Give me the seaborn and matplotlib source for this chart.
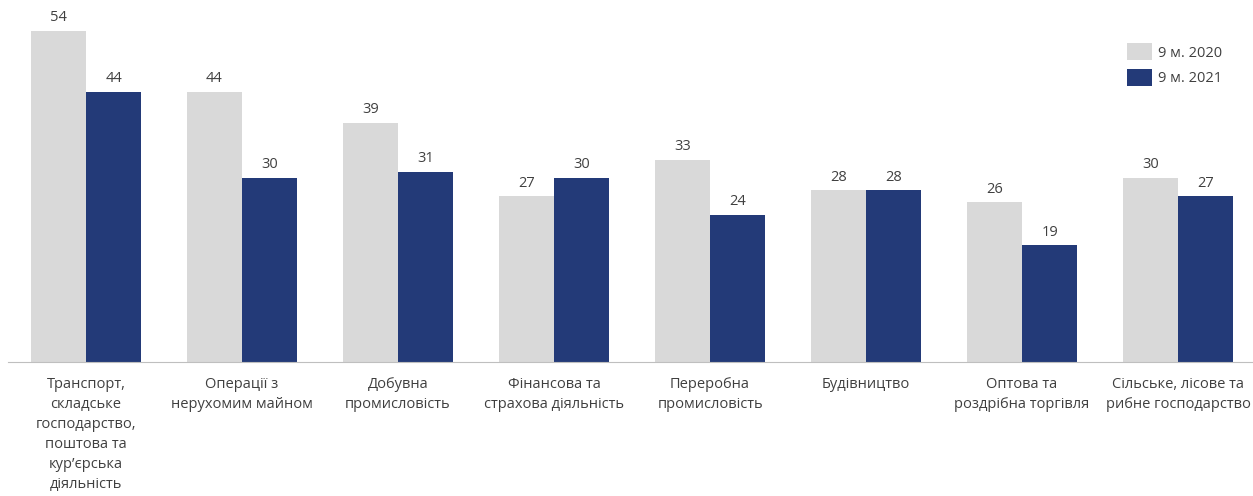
import pandas as pd
import matplotlib.pyplot as plt
import seaborn as sns

# Дані
categories = [
    "Транспорт,\nскладське\nгосподарство,\nпоштова та\nкур’єрська\nдіяльність",
    "Операції з\nнерухомим майном",
    "Добувна\nпромисловість",
    "Фінансова та\nстрахова діяльність",
    "Переробна\nпромисловість",
    "Будівництво",
    "Оптова та\nроздрібна торгівля",
    "Сільське, лісове та\nрибне господарство",
]
values_2020 = [54, 44, 39, 27, 33, 28, 26, 30]
values_2021 = [44, 30, 31, 30, 24, 28, 19, 27]
series = ["9 м. 2020", "9 м. 2021"]

df = pd.DataFrame({
    "cat": categories * 2,
    "val": values_2020 + values_2021,
    "period": [series[0]] * 8 + [series[1]] * 8,
})

sns.set_style("white")
plt.rcParams['font.family'] = ['Open Sans', 'DejaVu Sans']

fig = plt.figure(figsize=(12.53, 4.96), dpi=100)
ax = fig.add_axes([8 / 1253, 134 / 496, 1245 / 1253, 362 / 496])

sns.barplot(data=df, x="cat", y="val", hue="period", order=categories,
            hue_order=series, palette=["#d9d9d9", "#233a78"],
            width=0.71, saturation=1, linewidth=0, ax=ax)

for c in ax.containers:
    ax.bar_label(c, fmt="%d", padding=4, fontsize=10.5, color="#404040")

ax.set_xlim(-0.5, 7.48)
ax.set_ylim(0, 59)
ax.set_xlabel("")
ax.set_ylabel("")
ax.set_yticks([])
ax.tick_params(axis="x", length=0, pad=11, labelsize=10.5, labelcolor="#404040")
for lbl in ax.get_xticklabels():
    lbl.set_linespacing(1.45)
for s in ["top", "right", "left"]:
    ax.spines[s].set_visible(False)
ax.spines["bottom"].set_color("#bfbfbf")

ax.legend(loc="upper left", bbox_to_anchor=(1114 / 1253, 466 / 496),
          bbox_transform=fig.transFigure, frameon=False, fontsize=10.5,
          handlelength=1.7, handleheight=1.45, handletextpad=0.45,
          labelspacing=0.55, labelcolor="#404040")

fig.savefig("out.png", dpi=100)
